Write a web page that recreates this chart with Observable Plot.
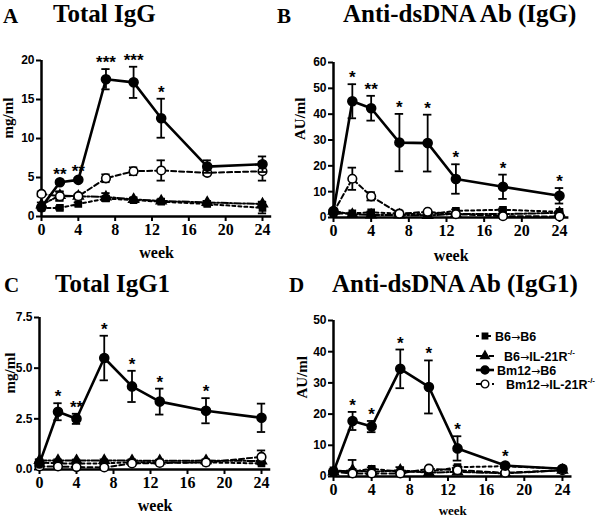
<!DOCTYPE html>
<html><head><meta charset="utf-8">
<script src="https://cdn.jsdelivr.net/npm/d3@7"></script>
<script src="https://cdn.jsdelivr.net/npm/@observablehq/plot@0.6"></script>
<style>
body{margin:0;background:#fff;}
#root{position:relative;width:600px;height:517px;overflow:hidden;background:#fff;}
#root > svg{position:absolute;}
</style></head><body><div id="root"></div>
<script>
// ---------- data ----------
const weeks = [0, 2, 4, 7, 10, 13, 18, 24];
const xTicks = [0, 4, 8, 12, 16, 20, 24];
const seriesNames = ["B6→B6", "B6→IL-21R", "Bm12→B6", "Bm12→IL-21R"];
const drawOrder = ["B6→B6", "B6→IL-21R", "Bm12→IL-21R", "Bm12→B6"];

// Panel A: Total IgG (mg/ml)
const A_B6_B6 = [1.1, 1.1, 1.6, 2.3, 2.1, 1.9, 1.6, 1.1];
const A_B6_B6_err = [0.2, 0.2, 0.2, 0.3, 0.2, 0.2, 0.2, 0.7];
const A_B6_IL = [1.5, 2.7, 2.6, 2.5, 2.2, 2.0, 1.8, 1.6];
const A_B6_IL_err = [0.3, 0.5, 0.2, 0.5, 0.2, 0.2, 0.2, 0.3];
const A_Bm_B6 = [1.2, 4.4, 4.7, 17.6, 17.2, 12.6, 6.4, 6.7];
const A_Bm_B6_err = [0.2, 0.2, 0.2, 1.3, 2.0, 2.5, 0.8, 1.0];
const A_Bm_IL = [2.9, 2.6, 2.6, 4.9, 5.8, 5.9, 5.6, 5.8];
const A_Bm_IL_err = [0.3, 0.6, 0.2, 0.5, 0.5, 1.3, 0.3, 1.2];
const A_starWeeks = [2, 4, 7, 10, 13];
const A_starLabels = ["**", "**", "***", "***", "*"];
const A_yTicks = [0, 5, 10, 15, 20];

// Panel B: Anti-dsDNA Ab (IgG) (AU/ml)
const B_B6_B6 = [1.5, 1.6, 2.0, 1.5, 1.2, 2.6, 3.0, 2.2];
const B_B6_B6_err = [0.3, 0.3, 0.3, 0.3, 0.2, 0.5, 0.5, 0.3];
const B_B6_IL = [2.5, 1.2, 1.0, 1.0, 0.8, 1.4, 1.3, 1.8];
const B_B6_IL_err = [0.4, 0.3, 0.2, 0.2, 0.2, 0.3, 0.3, 0.3];
const B_Bm_B6 = [2.5, 45, 42.3, 29, 28.8, 14.9, 11.9, 8.4];
const B_Bm_B6_err = [0.5, 6.6, 4.8, 11.1, 11.0, 5.7, 4.7, 3.0];
const B_Bm_IL = [2.0, 15, 8.2, 1.5, 2.2, 1.3, 0.5, 0.4];
const B_Bm_IL_err = [0.4, 4.3, 1.6, 0.3, 0.3, 0.3, 0.2, 0.2];
const B_starWeeks = [2, 4, 7, 10, 13, 18, 24];
const B_starLabels = ["*", "**", "*", "*", "*", "*", "*"];
const B_yTicks = [0, 10, 20, 30, 40, 50, 60];

// Panel C: Total IgG1 (mg/ml)
const C_B6_B6 = [0.35, 0.3, 0.3, 0.3, 0.36, 0.35, 0.35, 0.3];
const C_B6_B6_err = [0.05, 0.05, 0.05, 0.05, 0.05, 0.05, 0.05, 0.05];
const C_B6_IL = [0.45, 0.45, 0.44, 0.45, 0.44, 0.43, 0.44, 0.42];
const C_B6_IL_err = [0.05, 0.05, 0.05, 0.05, 0.05, 0.05, 0.05, 0.05];
const C_Bm_B6 = [0.3, 2.85, 2.5, 5.5, 4.1, 3.35, 2.9, 2.55];
const C_Bm_B6_err = [0.05, 0.42, 0.25, 1.1, 0.77, 0.64, 0.62, 0.7];
const C_Bm_IL = [0.15, 0.15, 0.12, 0.1, 0.3, 0.32, 0.35, 0.62];
const C_Bm_IL_err = [0.03, 0.03, 0.03, 0.03, 0.05, 0.05, 0.05, 0.32];
const C_starWeeks = [2, 4, 7, 10, 13, 18];
const C_starLabels = ["*", "**", "*", "*", "*", "*"];
const C_yTicks = [0, 2.5, 5, 7.5];

// Panel D: Anti-dsDNA Ab (IgG1) (AU/ml)
const D_B6_B6 = [2.0, 1.5, 2.5, 1.5, 1.5, 3.0, 3.3, 2.5];
const D_B6_B6_err = [0.3, 0.4, 0.4, 0.4, 0.3, 0.5, 0.5, 0.4];
const D_B6_IL = [1.5, 2.0, 1.5, 2.0, 1.2, 1.5, 1.0, 2.0];
const D_B6_IL_err = [0.3, 3.3, 0.3, 1.0, 0.3, 0.3, 0.3, 0.3];
const D_Bm_B6 = [1.5, 17.8, 16, 34.5, 28.7, 9, 3.5, 2.5];
const D_Bm_B6_err = [0.3, 2.9, 1.8, 6.2, 8.5, 3.9, 0.8, 0.5];
const D_Bm_IL = [1.5, 1.0, 1.0, 1.0, 2.5, 2.0, 1.2, 2.0];
const D_Bm_IL_err = [0.3, 0.3, 0.3, 0.3, 0.3, 0.3, 0.3, 0.3];
const D_starWeeks = [2, 4, 7, 10, 13, 18];
const D_starLabels = ["*", "*", "*", "*", "*", "*"];
const D_yTicks = [0, 10, 20, 30, 40, 50];

// ---------- styles ----------
const SERIF = "'Liberation Serif','Times New Roman',Times,serif";
const SANS = "'Liberation Sans',Arial,Helvetica,sans-serif";
const look = {
  "B6→B6":       {dash: "3,3",     width: 2,   symbol: "square",   fill: "black", r: 3.4},
  "B6→IL-21R":   {dash: "7,2,2,2", width: 2,   symbol: "triangle", fill: "black", r: 3.6},
  "Bm12→B6":     {dash: undefined, width: 2.6, symbol: "circle",   fill: "black", r: 4.5},
  "Bm12→IL-21R": {dash: "5,3",     width: 2,   symbol: "circle",   fill: "white", r: 4.3}
};

function panel(cfg) {
  const vals = [cfg.b6b6, cfg.b6il, cfg.bmb6, cfg.bmil];
  const errs = [cfg.b6b6e, cfg.b6ile, cfg.bmb6e, cfg.bmile];
  const data = seriesNames.flatMap((name, i) =>
    weeks.map((w, j) => ({week: w, value: vals[i][j], err: errs[i][j], series: name})));
  const bm = data.filter(d => d.series === "Bm12→B6");
  const stars = cfg.starWeeks.map((w, i) => {
    const p = bm.find(d => d.week === w);
    return {week: w, label: cfg.starLabels[i], y: p.value + p.err};
  });
  const marks = [
    Plot.ruleY([0], {strokeWidth: 2.5}),
    Plot.ruleX([0], {strokeWidth: 2.5}),
    Plot.axisX({ticks: xTicks, tickSize: 5, tickPadding: 2, strokeWidth: 2,
      fontSize: 16, fontWeight: "bold", fontFamily: SERIF, label: null}),
    Plot.axisY({ticks: cfg.yTicks, tickFormat: cfg.yFormat, tickSize: 5, tickPadding: 2, strokeWidth: 2,
      fontSize: 12, fontWeight: "bold", fontFamily: SANS, label: null})
  ];
  for (const name of drawOrder) {
    const d = data.filter(r => r.series === name);
    const st = look[name];
    marks.push(
      Plot.line(d, {x: "week", y: "value", stroke: "black", strokeWidth: st.width, strokeDasharray: st.dash}),
      Plot.ruleX(d, {x: "week", y1: r => Math.max(0, r.value - r.err), y2: r => r.value + r.err, strokeWidth: 1.8}),
      Plot.ruleY(d, {y: r => r.value + r.err, x1: r => r.week - 0.45, x2: r => r.week + 0.45, strokeWidth: 1.8}),
      Plot.ruleY(d, {y: r => Math.max(0, r.value - r.err), x1: r => r.week - 0.45, x2: r => r.week + 0.45, strokeWidth: 1.8}),
      Plot.dot(d, {x: "week", y: "value", symbol: () => st.symbol, r: st.r, fill: st.fill, stroke: "black", strokeWidth: 1.6})
    );
  }
  marks.push(
    Plot.text(stars, {x: "week", y: "y", text: "label", lineAnchor: "bottom", dy: -1,
      fontSize: 17, fontWeight: "bold", fontFamily: SANS}),
    Plot.text([cfg.yLabel], {frameAnchor: "left", rotate: -90, dx: cfg.yLabelDx, lineAnchor: "middle",
      fontSize: 15, fontWeight: "bold", fontFamily: SERIF}),
    Plot.text(["week"], {frameAnchor: "bottom", dy: cfg.weekDy, lineAnchor: "middle",
      fontSize: cfg.weekSize, fontWeight: "bold", fontFamily: SERIF})
  );
  const svg = Plot.plot({
    width: cfg.width, height: cfg.height,
    marginLeft: cfg.mL, marginRight: cfg.mR, marginTop: cfg.mT, marginBottom: cfg.mB,
    x: {domain: [0, 25]},
    y: {domain: cfg.yDomain},
    symbol: {type: "identity"},
    style: {background: "transparent", overflow: "visible", color: "black"},
    marks
  });
  svg.style.left = cfg.left + "px";
  svg.style.top = cfg.top + "px";
  svg.style.position = "absolute";
  svg.style.background = "transparent";
  return svg;
}

const root = document.getElementById("root");
root.append(panel({
  left: 0, top: 0, width: 300, height: 260, mL: 41, mR: 28.8, mT: 60, mB: 44,
  yDomain: [0, 20], yTicks: A_yTicks, yFormat: d3.format("d"), yLabel: "mg/ml", yLabelDx: -33,
  weekDy: 36, weekSize: 16,
  b6b6: A_B6_B6, b6b6e: A_B6_B6_err, b6il: A_B6_IL, b6ile: A_B6_IL_err,
  bmb6: A_Bm_B6, bmb6e: A_Bm_B6_err, bmil: A_Bm_IL, bmile: A_Bm_IL_err,
  starWeeks: A_starWeeks, starLabels: A_starLabels
}));
root.append(panel({
  left: 270, top: 0, width: 330, height: 260, mL: 63, mR: 31.6, mT: 62, mB: 43,
  yDomain: [0, 60], yTicks: B_yTicks, yFormat: d3.format("d"), yLabel: "AU/ml", yLabelDx: -33,
  weekDy: 38, weekSize: 16,
  b6b6: B_B6_B6, b6b6e: B_B6_B6_err, b6il: B_B6_IL, b6ile: B_B6_IL_err,
  bmb6: B_Bm_B6, bmb6e: B_Bm_B6_err, bmil: B_Bm_IL, bmile: B_Bm_IL_err,
  starWeeks: B_starWeeks, starLabels: B_starLabels
}));
root.append(panel({
  left: 0, top: 260, width: 300, height: 257, mL: 39, mR: 29.75, mT: 57, mB: 48,
  yDomain: [0, 7.5], yTicks: C_yTicks, yFormat: d3.format(".1f"), yLabel: "mg/ml", yLabelDx: -29,
  weekDy: 36, weekSize: 16,
  b6b6: C_B6_B6, b6b6e: C_B6_B6_err, b6il: C_B6_IL, b6ile: C_B6_IL_err,
  bmb6: C_Bm_B6, bmb6e: C_Bm_B6_err, bmil: C_Bm_IL, bmile: C_Bm_IL_err,
  starWeeks: C_starWeeks, starLabels: C_starLabels
}));
root.append(panel({
  left: 270, top: 260, width: 330, height: 257, mL: 63, mR: 28.5, mT: 60, mB: 41,
  yDomain: [0, 50], yTicks: D_yTicks, yFormat: d3.format("d"), yLabel: "AU/ml", yLabelDx: -31,
  weekDy: 34, weekSize: 13,
  b6b6: D_B6_B6, b6b6e: D_B6_B6_err, b6il: D_B6_IL, b6ile: D_B6_IL_err,
  bmb6: D_Bm_B6, bmb6e: D_Bm_B6_err, bmil: D_Bm_IL, bmile: D_Bm_IL_err,
  starWeeks: D_starWeeks, starLabels: D_starLabels
}));

// ---------- titles and legend overlay ----------
const panelLetters = ["A", "B", "C", "D"];
const panelTitles = ["Total IgG", "Anti-dsDNA Ab (IgG)", "Total IgG1", "Anti-dsDNA Ab (IgG1)"];
const over = d3.create("svg").attr("width", 600).attr("height", 517)
  .style("left", "0px").style("top", "0px").style("pointer-events", "none");
const letterPos = [[3, 23], [277, 23], [4, 292], [289, 292]];
const titlePos = [[53, 22], [343, 22], [55, 292], [332, 292]];
panelLetters.forEach((L, i) => {
  over.append("text").attr("x", letterPos[i][0]).attr("y", letterPos[i][1])
    .attr("font-family", SERIF).attr("font-weight", "bold").attr("font-size", 21).text(L);
  over.append("text").attr("x", titlePos[i][0]).attr("y", titlePos[i][1])
    .attr("font-family", SERIF).attr("font-weight", "bold").attr("font-size", 25).text(panelTitles[i]);
});
const legY = [336, 356, 370, 384];
const legTextX = [495, 504, 497, 506];
const legSup = ["", "-/-", "", "-/-"];
seriesNames.forEach((name, i) => {
  const st = look[name];
  const g = over.append("g");
  g.append("line").attr("x1", 476).attr("x2", 494).attr("y1", legY[i]).attr("y2", legY[i])
    .attr("stroke", "black").attr("stroke-width", st.width).attr("stroke-dasharray", st.dash || null);
  const sym = {square: d3.symbolSquare, triangle: d3.symbolTriangle, circle: d3.symbolCircle}[st.symbol];
  g.append("path").attr("transform", `translate(485,${legY[i]})`)
    .attr("d", d3.symbol(sym, Math.PI * st.r * st.r * 0.8)())
    .attr("fill", st.fill).attr("stroke", "black").attr("stroke-width", 1.4);
  const t = g.append("text").attr("x", legTextX[i]).attr("y", legY[i] + 4.5)
    .attr("font-family", SANS).attr("font-weight", "bold").attr("font-size", 12.5);
  const parts = name.split("→");
  t.append("tspan").text(parts[0]);
  t.append("tspan").attr("font-family", "'DejaVu Sans',sans-serif").attr("font-weight", "normal")
    .attr("font-size", 11).text("→");
  t.append("tspan").text(parts[1]);
  if (legSup[i]) t.append("tspan").attr("dy", -6).attr("font-size", 8).text(legSup[i]);
});
root.append(over.node());
</script>
</body></html>
